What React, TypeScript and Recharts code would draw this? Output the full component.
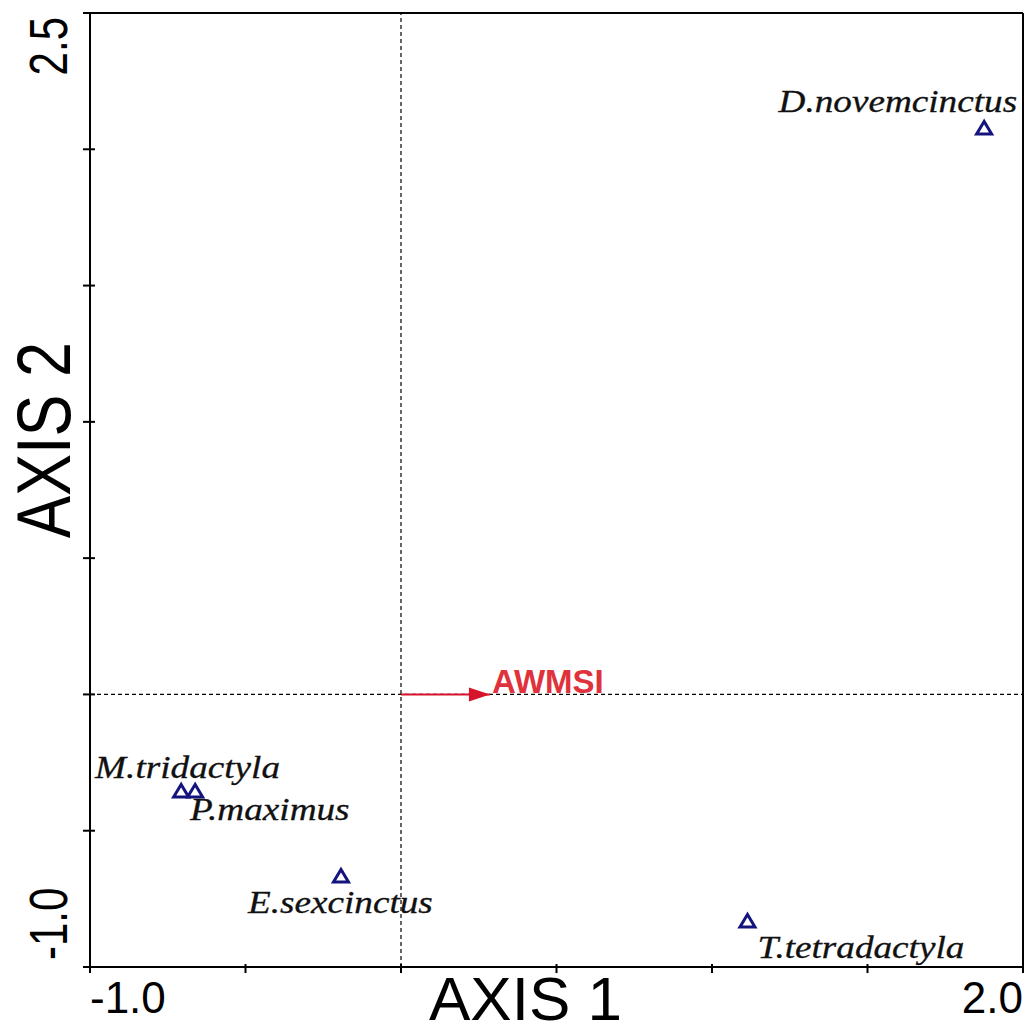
import React from 'react';
import { ScatterChart, Scatter, XAxis, YAxis, ReferenceLine } from 'recharts';

// ---- data ----
const species = ['D.novemcinctus', 'M.tridactyla', 'P.maximus', 'E.sexcinctus', 'T.tetradactyla'];
const axis1Scores = [1.875, -0.707, -0.662, -0.193, 1.114];
const axis2Scores = [2.078, -0.354, -0.354, -0.666, -0.831];

const envVariable = 'AWMSI';
const envArrowX = [0, 0.286];
const envArrowY = [0, 0];

const xTicks = [-1, -0.5, 0, 0.5, 1, 1.5, 2];
const xTickLabels = ['-1.0', '', '', '', '', '', '2.0'];
const yTicks = [-1, -0.5, 0, 0.5, 1, 1.5, 2, 2.5];
const yTickLabels = ['-1.0', '', '', '', '', '', '', '2.5'];

const xTitle = 'AXIS 1';
const yTitle = 'AXIS 2';

// ---- presentation (label placement per species) ----
const labelPlacement: Record<string, { dx: number; dy: number; anchor: 'start' | 'end' | 'middle' }> = {
  'D.novemcinctus': { dx: 33, dy: -16, anchor: 'end' },
  'M.tridactyla': { dx: -86, dy: -13, anchor: 'start' },
  'P.maximus': { dx: -5, dy: 29, anchor: 'start' },
  'E.sexcinctus': { dx: -93, dy: 37, anchor: 'start' },
  'T.tetradactyla': { dx: 10, dy: 37, anchor: 'start' },
};

const speciesData = species.map((name, i) => ({ name, x: axis1Scores[i], y: axis2Scores[i] }));
const arrowData = envArrowX.map((x, i) => ({ x, y: envArrowY[i] }));

const SANS = "'Liberation Sans', Arial, sans-serif";
const SERIF = "'Liberation Serif', 'Times New Roman', serif";
const NAVY = '#14147f';
const RED = '#d8142c';

const XTick = (props: any) => {
  const { x, y, index } = props;
  const label = xTickLabels[index];
  return (
    <g>
      <line x1={x} y1={y - 3} x2={x} y2={y + 6} stroke="#000" strokeWidth={2} />
      {label ? (
        <text
          x={x}
          y={y + 46}
          textAnchor={index === 0 ? 'start' : 'end'}
          fontSize={44}
          fontFamily={SANS}
          fill="#000"
        >
          {label}
        </text>
      ) : null}
    </g>
  );
};

const YTick = (props: any) => {
  const { x, y, index } = props;
  const label = yTickLabels[index];
  const isTop = index === yTicks.length - 1;
  const ty = isTop ? y + 4 : y - 7;
  return (
    <g>
      <line x1={x - 7} y1={y} x2={x + 5} y2={y} stroke="#000" strokeWidth={2} />
      {label ? (
        <text
          transform={`translate(${x - 23}, ${ty}) rotate(-90) scale(1, 1.27)`}
          x={0}
          y={0}
          textAnchor={isTop ? 'end' : 'start'}
          fontSize={42}
          fontFamily={SANS}
          fill="#000"
        >
          {label}
        </text>
      ) : null}
    </g>
  );
};

const SpeciesShape = (props: any) => {
  const { cx, cy, payload } = props;
  const p = labelPlacement[payload.name] || { dx: 8, dy: -8, anchor: 'start' };
  const tx = cx + p.dx;
  const ty = cy + p.dy;
  return (
    <g>
      <polygon
        points={`${cx},${cy - 6.5} ${cx - 7.5},${cy + 6} ${cx + 7.5},${cy + 6}`}
        fill="none"
        stroke={NAVY}
        strokeWidth={3}
        strokeLinejoin="miter"
      />
      <text
        transform={`translate(${tx}, ${ty}) scale(1.2, 1)`}
        x={0}
        y={0}
        textAnchor={p.anchor}
        fontSize={31}
        fontStyle="italic"
        fontFamily={SERIF}
        fill="#111"
        stroke="#111"
        strokeWidth={0.3}
      >
        {payload.name}
      </text>
    </g>
  );
};

const ArrowShape = (props: any) => {
  const { cx, cy, payload } = props;
  const last = arrowData[arrowData.length - 1];
  if (!payload || payload.x !== last.x) return <g />;
  return (
    <g>
      <polygon points={`${cx},${cy} ${cx - 21},${cy - 7} ${cx - 21},${cy + 7}`} fill={RED} stroke="none" />
      <text
        x={cx + 2}
        y={cy - 1}
        fontSize={33}
        fontWeight="bold"
        fontFamily={SANS}
        fill="#e0323c"
      >
        {envVariable}
      </text>
    </g>
  );
};

const XTitle = (props: any) => {
  const vb = props.viewBox || {};
  return (
    <text
      x={vb.x + vb.width / 2 - 31}
      y={vb.y + vb.height - 13}
      textAnchor="middle"
      fontSize={62}
      fontFamily={SANS}
      fill="#000"
    >
      {xTitle}
    </text>
  );
};

const YTitle = (props: any) => {
  const vb = props.viewBox || {};
  const cx = vb.x + 70;
  const cy = vb.y + vb.height / 2 - 50;
  return (
    <text
      transform={`translate(${cx}, ${cy}) rotate(-90) scale(1, 1.2)`}
      x={0}
      y={0}
      textAnchor="middle"
      fontSize={63}
      fontFamily={SANS}
      fill="#000"
    >
      {yTitle}
    </text>
  );
};

export default function App() {
  return (
    <div style={{ position: 'absolute', left: 0, top: 0, width: 1026, height: 1033, background: '#fff' }}>
      <ScatterChart width={1026} height={1033} margin={{ top: 13, right: 3, bottom: 0, left: 0 }}>
        <XAxis
          type="number"
          dataKey="x"
          domain={[-1, 2]}
          ticks={xTicks}
          interval={0}
          height={66}
          tickSize={0}
          tickMargin={0}
          tickLine={false}
          axisLine={{ stroke: '#000', strokeWidth: 2 }}
          tick={<XTick />}
          label={<XTitle />}
          allowDataOverflow
        />
        <YAxis
          type="number"
          dataKey="y"
          domain={[-1, 2.5]}
          ticks={yTicks}
          interval={0}
          width={90}
          tickSize={0}
          tickMargin={0}
          tickLine={false}
          axisLine={{ stroke: '#000', strokeWidth: 2 }}
          tick={<YTick />}
          label={<YTitle />}
          allowDataOverflow
        />
        <ReferenceLine x={0} stroke="#000" strokeWidth={1.2} strokeDasharray="4 3" />
        <ReferenceLine y={0} stroke="#000" strokeWidth={1.2} strokeDasharray="4 3" />
        <ReferenceLine y={2.5} stroke="#000" strokeWidth={2} />
        <ReferenceLine x={2} stroke="#000" strokeWidth={2} />
        <Scatter
          data={arrowData}
          line={{ stroke: RED, strokeWidth: 2 }}
          shape={<ArrowShape />}
          isAnimationActive={false}
        />
        <Scatter data={speciesData} shape={<SpeciesShape />} isAnimationActive={false} />
      </ScatterChart>
    </div>
  );
}
